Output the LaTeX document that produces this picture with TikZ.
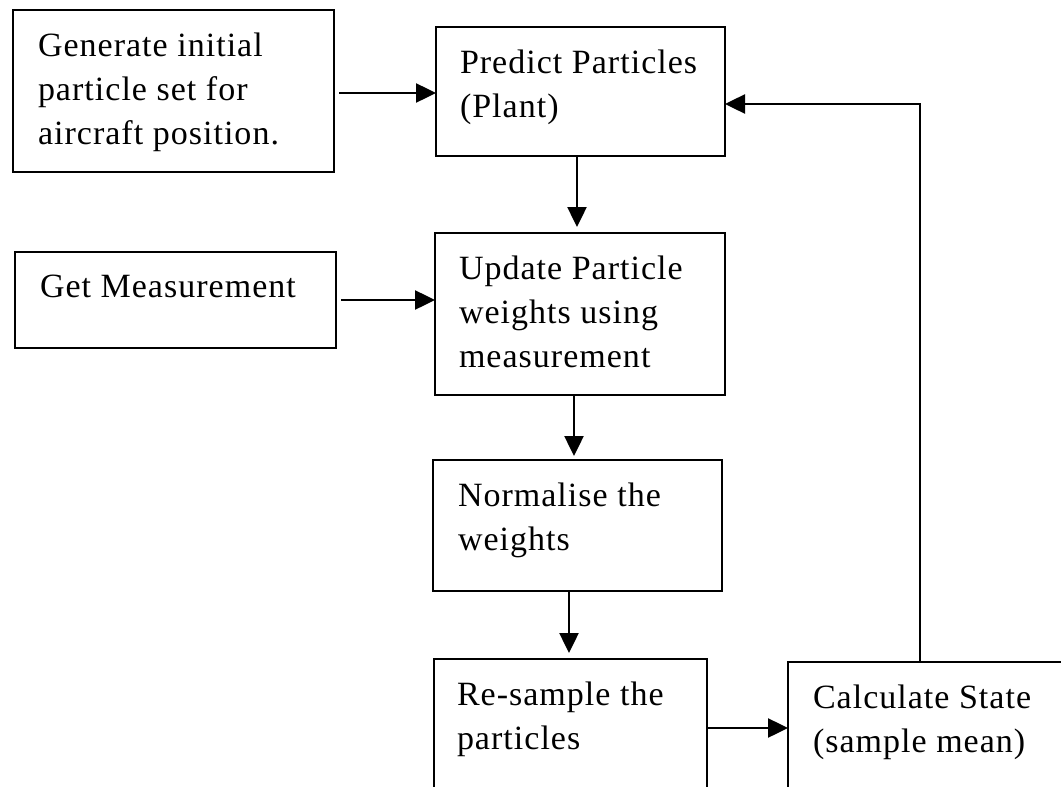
\documentclass[tikz,border=0pt]{standalone}
\usepackage{fontspec}
\setmainfont[LetterSpace=3]{Liberation Serif}
\usetikzlibrary{fit,arrows.meta}
\begin{document}
\begin{tikzpicture}[x=1pt,y=-1pt,
  box/.style={draw, line width=2.8pt, inner sep=0pt, outer sep=0pt},
  txt/.style={anchor=north west, inner sep=0pt, outer sep=0pt, align=left,
    font=\fontsize{34}{44}\selectfont},
  arr/.style={line width=2.5pt, -{Triangle[length=20pt,width=19pt]}}]
\useasboundingbox (0,0) rectangle (1061,787);
\begin{scope}
\clip (0,0) rectangle (1061,787);
\node[box, fit={(13,10) (334,172)}] (b1) {};
\node[box, fit={(436,27) (725,156)}] (b2) {};
\node[box, fit={(15,252) (336,348)}] (b3) {};
\node[box, fit={(435,233) (725,395)}] (b4) {};
\node[box, fit={(433,460) (722,591)}] (b5) {};
\node[box, fit={(434,659) (707,820)}] (b6) {};
\node[box, fit={(788,662) (1080,820)}] (b7) {};

\node[txt] (t1) at ([shift={(25,23)}]b1.north west) {Generate initial\\particle set for\\aircraft position.};
\node[txt] (t2) at ([shift={(24,23)}]b2.north west) {Predict Particles\\(Plant)};
\node[txt] (t3) at ([shift={(25,23)}]b3.north west) {Get Measurement};
\node[txt] (t4) at ([shift={(24,23)}]b4.north west) {Update Particle\\weights using\\measurement};
\node[txt] (t5) at ([shift={(25,23)}]b5.north west) {Normalise the\\weights};
\node[txt] (t6) at ([shift={(23,23)}]b6.north west) {Re-sample the\\particles};
\node[txt] (t7) at ([shift={(25,23)}]b7.north west) {Calculate State\\(sample mean)};

\draw[arr, shorten <=5pt] (b1.east |- 0,93) -- (b2.west |- 0,93);
\draw[arr, shorten <=5pt] (b3.east |- 0,300) -- (b4.west |- 0,300);
\draw[arr, shorten >=6pt] (b2.south -| 577,0) -- (b4.north -| 577,0);
\draw[arr, shorten >=4pt] (b4.south -| 574,0) -- (b5.north -| 574,0);
\draw[arr, shorten >=6pt] (b5.south -| 569,0) -- (b6.north -| 569,0);
\draw[arr] (b6.east |- 0,728) -- (b7.west |- 0,728);
\draw[arr] (b7.north -| 920,0) -- (920,104) -- (b2.east |- 0,104);
\end{scope}
\end{tikzpicture}
\end{document}
